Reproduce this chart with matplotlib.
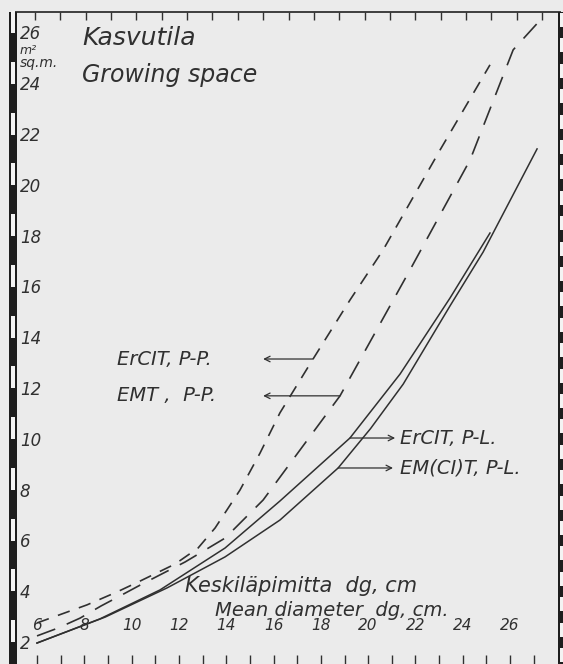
import numpy as np
import matplotlib
matplotlib.use("Agg")
import matplotlib.pyplot as plt
from matplotlib.patches import Rectangle

plt.rcParams['font.family'] = ['DejaVu Sans']
plt.rcParams['lines.scale_dashes'] = False

# kasvutila (m2) keskiläpimitan (cm) funktiona
d_ercit_pp = [6.00, 8.11, 9.38, 10.36, 11.84, 12.81, 13.53, 14.58, 15.43, 16.27, 17.67, 19.23, 20.63, 23.04, 25.15]
s_ercit_pp = [2.75, 3.46, 3.97, 4.40, 5.07, 5.70, 6.49, 7.98, 9.44, 11.02, 13.14, 15.46, 17.43, 21.37, 24.72]

d_emt_pp = [6.00, 6.89, 7.82, 8.71, 9.42, 10.36, 12.26, 13.95, 15.56, 17.12, 18.81, 21.77, 24.31, 26.13, 27.40]
s_emt_pp = [2.24, 2.55, 2.94, 3.42, 3.77, 4.24, 5.15, 6.09, 7.59, 9.56, 11.69, 16.65, 20.98, 25.31, 26.61]

d_ercit_pl = [6.00, 8.66, 11.20, 13.95, 16.27, 19.23, 21.35, 23.46, 25.15]
s_ercit_pl = [1.96, 2.91, 4.05, 5.70, 7.55, 10.03, 12.55, 15.54, 18.10]

d_emcit_pl = [6.00, 8.88, 11.50, 13.95, 16.27, 18.73, 20.10, 21.48, 23.46, 24.86, 27.14]
s_emcit_pl = [1.96, 2.98, 4.13, 5.35, 6.80, 8.85, 10.40, 12.15, 15.23, 17.35, 21.41]

x_ticks = [6, 8, 10, 12, 14, 16, 18, 20, 22, 24, 26]
y_ticks = [2, 4, 6, 8, 10, 12, 14, 16, 18, 20, 22, 24, 26]

ink = '#303030'
paper = '#ebebeb'
W, H = 563, 664

fig = plt.figure(figsize=(W / 100, H / 100), dpi=100, facecolor=paper)
ax = fig.add_axes([13 / W, 0, (560 - 13) / W, (H - 12) / H])
ax.set_facecolor(paper)
ax.set_xlim(4.985, 28.11)
ax.set_ylim(1.134, 26.80)

for s in ['left', 'right', 'bottom']:
    ax.spines[s].set_visible(False)
ax.spines['top'].set_color(ink)
ax.spines['top'].set_linewidth(1.3)

hand = dict(style='oblique', color=ink)

# käyrät
ax.plot(d_ercit_pp, s_ercit_pp, color=ink, lw=1.2, dashes=(9, 7))
ax.plot(d_emt_pp, s_emt_pp, color=ink, lw=1.2, dashes=(14, 9))
ax.plot(d_ercit_pl, s_ercit_pl, color=ink, lw=1.1)
ax.plot(d_emcit_pl, s_emcit_pl, color=ink, lw=1.1)

# akselit: numerot kuvan sisällä
ax.set_xticks(x_ticks)
ax.set_xticks(np.arange(7, 28, 2), minor=True)
ax.tick_params(axis='x', which='both', direction='in', length=6.5, width=1,
               color=ink, labelsize=11, labelcolor=ink, pad=-22)
for lbl in ax.get_xticklabels():
    lbl.set_verticalalignment('bottom')
    lbl.set_fontstyle('oblique')

ax.set_yticks(y_ticks)
ax.tick_params(axis='y', length=0, labelsize=12, labelcolor=ink, pad=-5)
for lbl in ax.get_yticklabels():
    lbl.set_horizontalalignment('left')
    lbl.set_fontstyle('oblique')

top = ax.twiny()
top.set_xlim(-0.868, 20.71)
top.set_xticks(range(21))
top.tick_params(axis='x', direction='in', length=6, width=1, color=ink, labeltop=False)
for s in top.spines.values():
    s.set_visible(False)

# tekstit
ax.text(5.28, 25.30, 'm²', fontsize=9, va='center', **hand)
ax.text(5.28, 24.80, 'sq.m.', fontsize=10, va='center', **hand)
ax.text(7.90, 25.78, 'Kasvutila', fontsize=18, va='center', **hand)
ax.text(7.90, 24.32, 'Growing space', fontsize=17, va='center', **hand)
ax.text(12.26, 4.20, 'Keskiläpimitta  dg, cm', fontsize=15, va='center', **hand)
ax.text(13.53, 3.25, 'Mean diameter  dg, cm.', fontsize=14, va='center', **hand)

arrow = dict(arrowstyle='->', color=ink, lw=0.9, shrinkA=0, shrinkB=0)
# P-P: nuoli käyrältä vasemmalle tekstiin
ax.annotate('', xy=(15.56, s_ercit_pp[10]), xytext=(d_ercit_pp[10], s_ercit_pp[10]), arrowprops=arrow)
ax.text(9.38, s_ercit_pp[10], 'ErCIT, P-P.', fontsize=14, va='center', **hand)
ax.annotate('', xy=(15.56, s_emt_pp[10]), xytext=(d_emt_pp[10], s_emt_pp[10]), arrowprops=arrow)
ax.text(9.38, s_emt_pp[10], 'EMT ,  P-P.', fontsize=14, va='center', **hand)
# P-L: nuoli käyrältä oikealle tekstiin
ax.annotate('', xy=(21.14, s_ercit_pl[5]), xytext=(d_ercit_pl[5], s_ercit_pl[5]), arrowprops=arrow)
ax.text(21.35, s_ercit_pl[5], 'ErCIT, P-L.', fontsize=14, va='center', **hand)
ax.annotate('', xy=(21.05, s_emcit_pl[5]), xytext=(d_emcit_pl[5], s_emcit_pl[5]), arrowprops=arrow)
ax.text(21.35, s_emcit_pl[5], 'EM(CI)T, P-L.', fontsize=14, va='center', **hand)

# sivujen mustavalkoiset reunat
fig.add_artist(Rectangle((9 / W, 0), 8 / W, (H - 12) / H, transform=fig.transFigure,
                         facecolor='#1e1e1e', edgecolor='none'))
for k in range(13):
    yc = 22 + 50.75 * k
    fig.add_artist(Rectangle((11 / W, (H - yc - 11) / H), 4 / W, 22 / H,
                             transform=fig.transFigure, facecolor='#f4f4f4', edgecolor='none'))
fig.add_artist(Rectangle((558 / W, 0), 5 / W, (H - 12) / H, transform=fig.transFigure,
                         facecolor='#1e1e1e', edgecolor='none'))
for k in range(26):
    yc = 20 + 25.4 * k
    fig.add_artist(Rectangle((560 / W, (H - yc - 7) / H), 3 / W, 14 / H,
                             transform=fig.transFigure, facecolor='#f4f4f4', edgecolor='none'))

fig.savefig('out.png', dpi=100, facecolor=paper)
